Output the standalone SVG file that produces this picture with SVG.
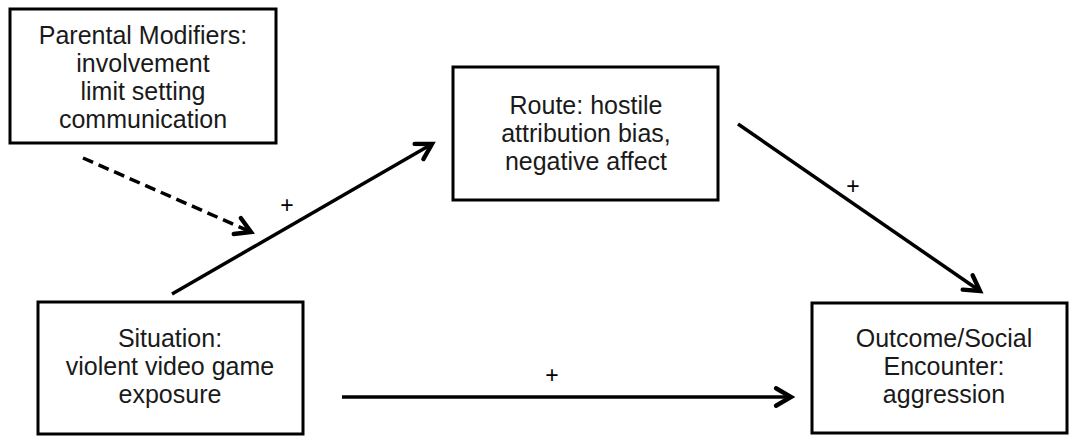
<svg xmlns="http://www.w3.org/2000/svg" width="1070" height="436" viewBox="0 0 1070 436">
  <style>
    .box { fill: #ffffff; stroke: #000000; stroke-width: 3; }
    .label { font-family: "Liberation Sans", Arial, sans-serif; font-size: 25px; fill: #1a1a1a; text-anchor: middle; }
    .plus { font-family: "Liberation Sans", Arial, sans-serif; font-size: 23px; fill: #000000; text-anchor: middle; }
    .conn { stroke: #000000; stroke-width: 3.5; fill: none; }
    .dashed { stroke-dasharray: 11 6; }
  </style>
  <defs>
    <marker id="arrow" markerUnits="userSpaceOnUse" markerWidth="30" markerHeight="30" refX="0" refY="0" viewBox="-16 -12 20 24" orient="auto">
      <path d="M-12,-7 L0,0 L-12,7" fill="none" stroke="#000000" stroke-width="3.5" stroke-linejoin="miter" stroke-linecap="round"/>
    </marker>
  </defs>
  <rect width="1070" height="436" fill="#ffffff"/>

  <g id="connectors">
    <line class="conn dashed" x1="83" y1="158" x2="251" y2="232" marker-end="url(#arrow)"/>
    <line class="conn" x1="172" y1="294" x2="432" y2="144" marker-end="url(#arrow)"/>
    <line class="conn" x1="738" y1="124" x2="980" y2="291" marker-end="url(#arrow)"/>
    <line class="conn" x1="342" y1="397" x2="791" y2="397" marker-end="url(#arrow)"/>
    <text class="plus" x="287" y="213">+</text>
    <text class="plus" x="853" y="194">+</text>
    <text class="plus" x="552" y="383">+</text>
  </g>

  <g id="parental">
    <rect class="box" x="10" y="9" width="266" height="134"/>
    <text class="label" x="143" y="44">Parental Modifiers:</text>
    <text class="label" x="143" y="72">involvement</text>
    <text class="label" x="143" y="100">limit setting</text>
    <text class="label" x="143" y="128">communication</text>
  </g>

  <g id="route">
    <rect class="box" x="453" y="67" width="265" height="133"/>
    <text class="label" x="586" y="114">Route: hostile</text>
    <text class="label" x="586" y="142">attribution bias,</text>
    <text class="label" x="586" y="170">negative affect</text>
  </g>

  <g id="situation">
    <rect class="box" x="38" y="302" width="265" height="132"/>
    <text class="label" x="170" y="347">Situation:</text>
    <text class="label" x="170" y="375">violent video game</text>
    <text class="label" x="170" y="403">exposure</text>
  </g>

  <g id="outcome">
    <rect class="box" x="812" y="303" width="255" height="130"/>
    <text class="label" x="944" y="347">Outcome/Social</text>
    <text class="label" x="944" y="375">Encounter:</text>
    <text class="label" x="944" y="403">aggression</text>
  </g>
</svg>
